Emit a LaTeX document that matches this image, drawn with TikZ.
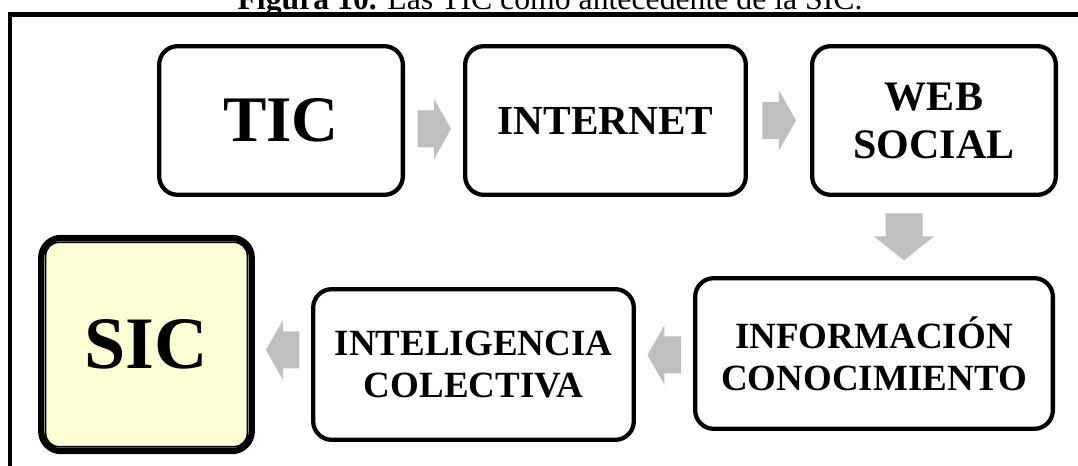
\documentclass[tikz,border=0pt]{standalone}
\usepackage{fontspec}
\setmainfont{Liberation Serif}
\usetikzlibrary{calc}

\definecolor{siccream}{RGB}{255,255,213}
\definecolor{arrowgray}{RGB}{191,191,191}

% gray block arrow, base of the head at #2, turned by #3
\newcommand{\blockarrow}[3][]{%
  \fill[arrowgray,shift={(#2)},rotate=#3,#1]
    (-16.5,-18.5) -- (0,-18.5) -- (0,-30) -- (17,0) -- (0,30) -- (0,18.5) -- (-16.5,18.5) -- cycle;}

\tikzset{
  box/.style={draw,line width=3.2pt,rounded corners=14pt,align=center,
    inner sep=0pt,minimum height=111.5pt},
  sicbox/.style={draw,line width=4.6pt,rounded corners=15pt,fill=siccream,
    inner sep=0pt,minimum width=158pt,minimum height=160pt}
}

\begin{document}
\begin{tikzpicture}[x=0.75pt,y=-0.75pt]
  \useasboundingbox (0,0) rectangle (1078,466);
  \clip (0,0) rectangle (1078,466);

  \node[anchor=base,font=\fontsize{23.8}{28}\selectfont] (caption) at (550,10)
    {\textbf{Figura 10.} Las TIC como antecedente de la SIC.};
  \draw[line width=3.6pt] (10,14.5) rectangle (1110,500);

  % top row
  \node[box,minimum width=182.8pt,font=\fontsize{48.75}{52}\selectfont\bfseries] (tic) at (281,120.5) {TIC};
  \node[box,minimum width=210.5pt,font=\fontsize{31}{36}\selectfont\bfseries] (internet) at (605.5,120.5) {INTERNET};
  \node[box,minimum width=182.8pt,font=\fontsize{31.5}{36}\selectfont\bfseries] (web) at (934,120.5) {WEB\\SOCIAL};

  % bottom row
  \node[box,minimum width=268.3pt,minimum height=113pt,font=\fontsize{27.75}{31.5}\selectfont\bfseries] (info) at (874,353.5) {INFORMACIÓN\\CONOCIMIENTO};
  \node[box,minimum width=240.5pt,minimum height=113pt,font=\fontsize{27.75}{31.5}\selectfont\bfseries] (intel) at (473.5,364.5) {INTELIGENCIA\\COLECTIVA};
  \node[sicbox,font=\fontsize{55.5}{60}\selectfont\bfseries] (sic) at (146.5,344.5) {SIC};
  \draw[line width=1.3pt,rounded corners=10pt] ($(sic.north west)+(7.5,7.5)$) rectangle ($(sic.south east)+(-7.5,-7.5)$);

  % arrows
  \blockarrow{$(tic.east)!0.5!(internet.west)+(0,8.5)$}{0}
  \blockarrow{$(internet.east)!0.5!(web.west)$}{0}
  \blockarrow[xscale=1.4]{$(web.south)!0.5!(info.north)$}{-90}
  \blockarrow{$(info.west)!0.5!(intel.east)+(0,-4)$}{180}
  \blockarrow{$(intel.west)!0.5!(sic.east)+(0,-4.5)$}{180}
\end{tikzpicture}
\end{document}
